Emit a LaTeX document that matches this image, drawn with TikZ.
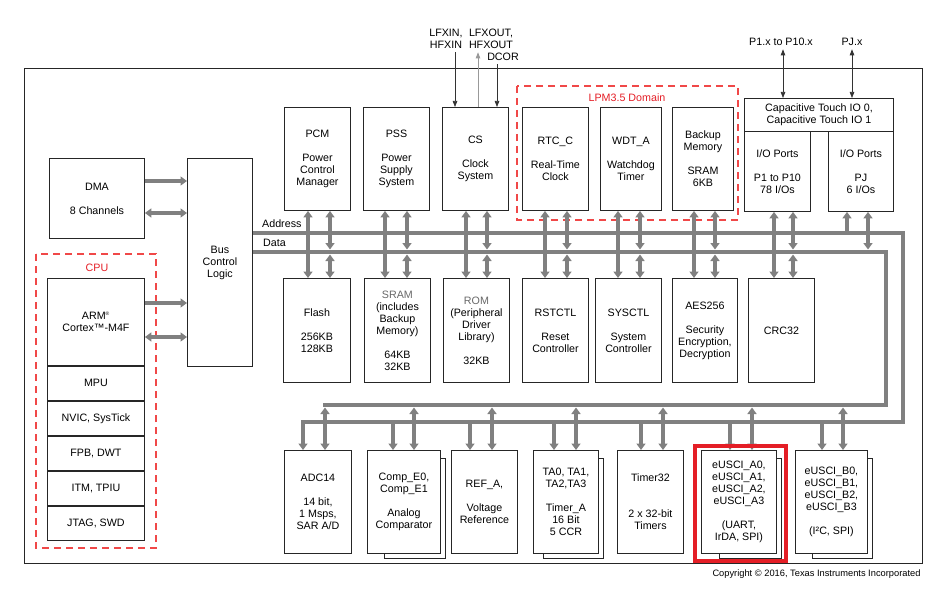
\documentclass[tikz,border=0pt]{standalone}
\usepackage{fontspec}
\setmainfont{Liberation Sans}
\usetikzlibrary{arrows.meta,positioning}
\definecolor{tired}{RGB}{228,30,38}
\definecolor{domred}{RGB}{240,72,72}
\definecolor{busgray}{RGB}{128,128,128}
\definecolor{txtgray}{RGB}{105,105,105}

\begin{document}
\begin{tikzpicture}[x=1pt, y=-1pt, >={Triangle[width=9pt,length=6.5pt]},
    every node/.style={font=\fontsize{10.7}{12}\selectfont},
    blk/.style={draw=black!85, line width=0.9pt, fill=white, align=center, inner sep=0pt, anchor=north west},
    cpurow/.style={minimum width=97pt, minimum height=34pt},
    bus/.style={draw=busgray, line width=4.5pt},
    sig/.style={draw=black!80, line width=0.7pt, -{Triangle[width=4.5pt,length=6pt]}},
    sigb/.style={draw=black!80, line width=0.7pt, {Triangle[width=4.5pt,length=6pt]}-{Triangle[width=4.5pt,length=6pt]}},
    dom/.style={draw=domred, line width=1.1pt, dash pattern=on 7pt off 5pt}]
    \useasboundingbox (0,0) rectangle (942,596);
    \draw[draw=black!85, line width=1pt] (24,69) rectangle (922,563);

    % DMA, bus control, CPU
    \node[blk, minimum width=95pt, minimum height=80pt] (dma) at (49,158) {DMA\\[12pt]8 Channels};
    \node[blk, minimum width=65pt, minimum height=208pt] (bcl) at (187,158) {Bus\\Control\\Logic};
    \draw[dom] (36,254) rectangle (156,548);
    \node[text=tired] (cpu) at (97,268) {CPU};
    \node[blk, minimum width=97pt, minimum height=87pt] (arm) at (47,278)
        {ARM\textsuperscript{\fontsize{5}{5}\selectfont ®}\\Cortex™-M4F};
    \node[blk, cpurow, below=0pt of arm] (mpu) {MPU};
    \node[blk, cpurow, below=0pt of mpu] (nvic) {NVIC, SysTick};
    \node[blk, cpurow, below=0pt of nvic] (fpb) {FPB, DWT};
    \node[blk, cpurow, below=0pt of fpb] (itm) {ITM, TPIU};
    \node[blk, cpurow, below=0pt of itm] (jtag) {JTAG, SWD};

    % top row
    \node[blk, minimum width=66pt, minimum height=103pt] (pcm) at (284,107) {PCM\\[12pt]Power\\Control\\Manager};
    \node[blk, minimum width=66pt, minimum height=103pt] (pss) at (363,107) {PSS\\[12pt]Power\\Supply\\System};
    \node[blk, minimum width=66pt, minimum height=103pt] (cs) at (442,107) {CS\\[12pt]Clock\\System};
    \draw[dom] (517,86) rectangle (738,220);
    \node[text=tired] (lpm) at (627,98) {LPM3.5 Domain};
    \node[blk, minimum width=66pt, minimum height=103pt] (rtc) at (522,107) {RTC\_C\\[12pt]Real-Time\\Clock};
    \node[blk, minimum width=61pt, minimum height=103pt] (wdt) at (600,107) {WDT\_A\\[12pt]Watchdog\\Timer};
    \node[blk, minimum width=61pt, minimum height=103pt] (bkp) at (672,107) {Backup\\Memory\\[12pt]SRAM\\6KB};
    \node[blk, minimum width=149pt, minimum height=33pt] (cap) at (744,98) {Capacitive Touch IO 0,\\Capacitive Touch IO 1};
    \node[blk, minimum width=66pt, minimum height=80pt] (iop) at (744,131) {I/O Ports\\[12pt]P1 to P10\\78 I/Os};
    \node[blk, minimum width=65pt, minimum height=80pt] (iopj) at (828,131) {I/O Ports\\[12pt]PJ\\6 I/Os};

    % middle row
    \node[blk, minimum width=67pt, minimum height=104pt] (flash) at (283,278) {Flash\\[12pt]256KB\\128KB};
    \node[blk, minimum width=66pt, minimum height=104pt] (sram) at (364,278) {{\color{txtgray}SRAM}\\(includes\\Backup\\Memory)\\[12pt]64KB\\32KB};
    \node[blk, minimum width=66pt, minimum height=104pt] (rom) at (443,278) {{\color{txtgray}ROM}\\(Peripheral\\Driver\\Library)\\[12pt]32KB};
    \node[blk, minimum width=66pt, minimum height=104pt] (rst) at (522,278) {RSTCTL\\[12pt]Reset\\Controller};
    \node[blk, minimum width=66pt, minimum height=104pt] (sys) at (595,278) {SYSCTL\\[12pt]System\\Controller};
    \node[blk, minimum width=65pt, minimum height=104pt] (aes) at (672,278) {AES256\\[12pt]Security\\Encryption,\\Decryption};
    \node[blk, minimum width=66pt, minimum height=104pt] (crc) at (748,278) {CRC32};

    % bottom row
    \node[blk, minimum width=67pt, minimum height=103pt] (adc) at (284,450) {ADC14\\[12pt]14 bit,\\1 Msps,\\SAR A/D};
    \node[blk, minimum width=73pt, minimum height=103pt] (comp) at (367,450) {Comp\_E0,\\Comp\_E1\\[12pt]Analog\\Comparator};
    \node[blk, minimum width=66pt, minimum height=103pt] (ref) at (451,450) {REF\_A,\\[12pt]Voltage\\Reference};
    \node[blk, minimum width=65pt, minimum height=103pt] (ta) at (533,450) {TA0, TA1,\\TA2,TA3\\[12pt]Timer\_A\\16 Bit\\5 CCR};
    \node[blk, minimum width=66pt, minimum height=103pt] (tmr) at (617,450) {Timer32\\[24pt]2 x 32-bit\\Timers};
    \node[blk, minimum width=75pt, minimum height=103pt] (ua) at (701,450) {eUSCI\_A0,\\eUSCI\_A1,\\eUSCI\_A2,\\eUSCI\_A3\\[12pt](UART,\\IrDA, SPI)};
    \node[blk, minimum width=72pt, minimum height=103pt] (ub) at (795,450) {eUSCI\_B0,\\eUSCI\_B1,\\eUSCI\_B2,\\eUSCI\_B3\\[12pt](I²C, SPI)};
    \foreach \n/\off in {comp/17, ta/10, ua/18, ub/17} {
        \draw[draw=black!85, line width=0.9pt] ([xshift=\off pt]\n.south west) -- ++(0,5)
            -| ([xshift=5pt,yshift=-8pt]\n.north east) -- ([yshift=-8pt]\n.north east);
    }

    % pins
    \node[align=center] (xin) at (446,39) {LFXIN,\\HFXIN};
    \node[align=center] (xout) at (491,39) {LFXOUT,\\HFXOUT};
    \node (dcor) at (503,57) {DCOR};
    \node (p1x) at (781,42) {P1.x to P10.x};
    \node (pjx) at (852,42) {PJ.x};
    \draw[sig] (xin.south -| 455,0) -- (cs.north -| 455,0);
    \draw[sig, draw=black!40] (cs.north -| 478,0) -- (xout.south -| 478,0);
    \draw[sig] (dcor.south -| 497,0) -- (cs.north -| 497,0);
    \draw[sigb] (p1x.south -| 783,0) -- (cap.north -| 783,0);
    \draw[sigb] (pjx.south -| 852,0) -- (cap.north -| 852,0);

    % buses
    \node[anchor=west, inner sep=1pt] (adrlbl) at (261,224) {Address};
    \node[anchor=west, inner sep=1pt] (datlbl) at (262,243) {Data};
    \draw[bus,->] (bcl.east |- 0,233) -- (903,233) -- (903,422) -- (303,422) -- (adc.north -| 303,0);
    \draw[bus] (bcl.east |- 0,252) -- (886,252) -- (886,405) -- (322.75,405);
    \draw[bus,<->,shorten <=2.5pt] (325,405) -- (adc.north -| 325,0);
    \draw[bus,->] (dma.east |- 0,181) -- (bcl.west |- 0,181);
    \draw[bus,<->] (dma.east |- 0,213) -- (bcl.west |- 0,213);
    \draw[bus,->] (arm.east |- 0,303) -- (bcl.west |- 0,303);
    \draw[bus,<->] (arm.east |- 0,337) -- (bcl.west |- 0,337);
    \foreach \n/\a/\d in {pcm/308/330, pss/385/407, cs/466/487, rtc/545/567, wdt/618/640, bkp/694/715, iop/774/793, iopj/847/868} {
        \draw[bus,->] (\a,233) -- (\n.south -| \a,0);
        \draw[bus,<->,shorten <=2.5pt] (\d,252) -- (\n.south -| \d,0);
    }
    \foreach \n/\a/\d in {flash/308/330, sram/385/407, rom/466/487, rst/545/567, sys/618/640, aes/694/715, crc/774/793} {
        \draw[bus,->] (\a,233) -- (\n.north -| \a,0);
        \draw[bus,<->,shorten <=2.5pt] (\d,252) -- (\n.north -| \d,0);
    }
    \foreach \n/\a/\d in {comp/393/414, ref/470/492, ta/554/576, tmr/641/663, ua/730/752, ub/822/843} {
        \draw[bus,->] (\a,422) -- (\n.north -| \a,0);
        \draw[bus,<->,shorten <=2.5pt] (\d,405) -- (\n.north -| \d,0);
    }

    \draw[draw=tired, line width=3.8pt] (695,446) rectangle (786,561);
    \node[anchor=east, font=\fontsize{9.3}{11}\selectfont] (copy) at (924,574) {Copyright © 2016, Texas Instruments Incorporated};
\end{tikzpicture}
\end{document}
